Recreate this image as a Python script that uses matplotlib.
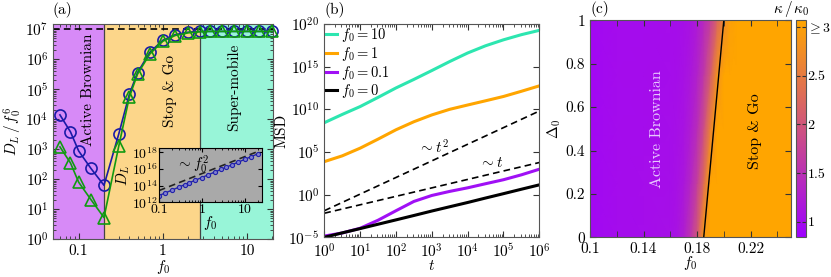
import matplotlib
matplotlib.use("Agg")
import matplotlib.pyplot as plt
from matplotlib.colors import LinearSegmentedColormap
from matplotlib.ticker import FixedLocator, FixedFormatter, LogLocator, NullFormatter, NullLocator

plt.rcParams["font.family"] = "serif"
plt.rcParams["font.serif"] = ["cmr10"]
plt.rcParams["mathtext.fontset"] = "cm"
plt.rcParams["axes.formatter.use_mathtext"] = True
plt.rcParams["font.size"] = 11

# ---- panel (a) data
f0_a = [0.06, 0.08, 0.1, 0.14, 0.2, 0.3, 0.4, 0.5, 0.7, 1, 1.4, 2, 2.8, 3.6, 5, 7, 10, 14, 20]
DL_blue = [1.4e4, 3.8e3, 880, 230, 63, 3.3e3, 6.8e4, 3.6e5, 1.7e6, 4.3e6, 6.6e6, 8e6,
           8.5e6, 8.5e6, 8.5e6, 8.5e6, 8.5e6, 8.5e6, 8.5e6]
DL_green = [1.2e3, 350, 80, 21, 5.3, 1.3e3, 5.5e4, 3.2e5, 1.5e6, 4e6, 6.2e6, 7.6e6,
            8.3e6, 8.5e6, 8.5e6, 8.5e6, 8.5e6, 8.5e6, 8.5e6]
plateau = 1e7
regions = [(0.05, 0.2, "#d78af7"), (0.2, 2.8, "#fcd68a"), (2.8, 20.5, "#98f5d8")]

# inset
f0_in = [0.1, 0.14, 0.2, 0.3, 0.4, 0.5, 0.7, 1, 1.4, 2, 2.8, 3.6, 5, 7, 10, 14, 20]
DL_in = [6.3e12, 1.3e13, 2.8e13, 6.9e13, 1.3e14, 2.1e14, 4.3e14, 9.3e14, 1.9e15, 4.2e15,
         8.7e15, 1.5e16, 3.1e16, 6.3e16, 1.4e17, 2.9e17, 6.3e17]
guide_in_x = [0.1, 20]
guide_in_y = [2.5e13, 1.2e18]

# ---- panel (b) data
t = [1, 3.16, 10, 31.6, 100, 316, 1e3, 3.16e3, 1e4, 3.16e4, 1e5, 3.16e5, 1e6]
msd_10 = [2.7e8, 2.5e9, 2.1e10, 2.5e11, 3.2e12, 3.2e13, 3.5e14, 4.0e15, 4.0e16, 2.8e17,
          1.4e18, 5.6e18, 1.8e19]
msd_1 = [7.4e3, 3.5e4, 2.8e5, 3.2e6, 4.0e7, 3.5e8, 2.2e9, 1.0e10, 3.2e10, 1.0e11, 3.2e11,
         1.3e12, 5.6e12]
msd_01 = [1.4e-5, 3.2e-5, 1.15e-4, 1.0e-3, 1.3e-2, 0.16, 0.8, 2.4, 6.3, 19, 56, 210, 950]
msd_0 = [1e-5, 3.3e-5, 1.05e-4, 3.4e-4, 1.1e-3, 3.6e-3, 1.2e-2, 3.8e-2, 0.12, 0.4, 1.3, 4.3, 14]
guide_t = [1, 1e6]
guide_t2 = [1.3e-2, 6.3e9]
guide_t1 = [6.6e-3, 5.8e3]

# ---- panel (c) data
f0_c = [0.10, 0.12, 0.14, 0.16, 0.165, 0.17, 0.175, 0.18, 0.185, 0.19, 0.195, 0.20, 0.205,
        0.21, 0.22, 0.25]
delta0 = [0.0, 0.25, 0.5, 0.75, 1.0]
kappa = [
    [0.95, 1.00, 1.02, 1.05, 1.10, 1.25, 1.55, 2.00, 2.90, 3.20, 3.30, 3.30, 3.30, 3.30, 3.30, 3.30],
    [0.95, 1.00, 1.02, 1.04, 1.07, 1.15, 1.35, 1.70, 2.30, 3.10, 3.30, 3.30, 3.30, 3.30, 3.30, 3.30],
    [0.95, 1.00, 1.01, 1.03, 1.05, 1.10, 1.22, 1.45, 1.90, 2.60, 3.20, 3.30, 3.30, 3.30, 3.30, 3.30],
    [0.95, 1.00, 1.01, 1.02, 1.04, 1.07, 1.15, 1.30, 1.60, 2.10, 2.80, 3.20, 3.30, 3.30, 3.30, 3.30],
    [0.95, 1.00, 1.00, 1.02, 1.03, 1.05, 1.10, 1.20, 1.40, 1.70, 2.20, 2.70, 3.00, 3.30, 3.30, 3.30],
]
border_f0 = [0.185, 0.2]
border_d = [0.0, 1.0]

W, H = 831, 277
fig = plt.figure(figsize=(W / 100, H / 100), dpi=100)

def px_axes(l, t_, r, b):
    return fig.add_axes([l / W, 1 - b / H, (r - l) / W, (b - t_) / H])

def style(ax):
    ax.tick_params(which="both", direction="in", top=True, right=True, color="#333333")
    ax.tick_params(which="major", length=4)
    ax.tick_params(which="minor", length=2)
    for s in ax.spines.values():
        s.set_color("#555555")

# ---------------- (a)
ax1 = px_axes(53.3, 24, 273.3, 239.3)
for lo, hi, c in regions:
    ax1.axvspan(lo, hi, color=c, lw=0)
for x in (0.2, 2.8):
    ax1.axvline(x, color="#444444", lw=0.9)
ax1.axhline(plateau, color="k", ls=(0, (4, 2.5)), lw=1.2)
ax1.plot(f0_a, DL_blue, "-o", color="#1a1aa8", mfc="none", ms=8, mew=1.2, lw=1.2, clip_on=False, zorder=4)
ax1.plot(f0_a, DL_green, "-^", color="#119a11", mfc="none", ms=8, mew=1.2, lw=1.2, clip_on=False, zorder=4)
ax1.set_xscale("log")
ax1.set_yscale("log")
ax1.set_xlim(0.05, 20.5)
ax1.set_ylim(1, 1.5e7)
ax1.xaxis.set_major_locator(FixedLocator([0.1, 1, 10]))
ax1.xaxis.set_major_formatter(FixedFormatter(["0.1", "1", "10"]))
ax1.xaxis.set_minor_locator(LogLocator(subs=range(2, 10), numticks=20))
ax1.xaxis.set_minor_formatter(NullFormatter())
ax1.yaxis.set_major_locator(FixedLocator([10.0 ** k for k in range(8)]))
ax1.yaxis.set_minor_locator(LogLocator(subs=range(2, 10), numticks=20))
ax1.yaxis.set_minor_formatter(NullFormatter())
style(ax1)
ax1.set_xlabel("$f_0$", labelpad=0)
ax1.set_ylabel("$D_L\\,/\\,f_0^6$", labelpad=1)
ax1.text(0.13, 1.0e5, "Active Brownian", rotation=90, ha="center", va="center", fontsize=11)
ax1.text(1.22, 9e4, "Stop & Go", rotation=90, ha="center", va="center", fontsize=11)
ax1.text(7.0, 1.2e5, "Super-mobile", rotation=90, ha="center", va="center", fontsize=11)
fig.text(53 / W, 1 - 10 / H, "(a)", ha="left", va="center", fontsize=11)

ins = ax1.inset_axes([0.48, 0.172, 0.468, 0.251])
ins.set_facecolor("#a9a9a9")
ins.plot(guide_in_x, guide_in_y, color="#222222", ls=(0, (4, 2.5)), lw=1.2)
ins.plot(f0_in, DL_in, "-o", color="#2222aa", ms=3, mfc="#7f7fd0", mew=0.8, lw=1.0)
ins.set_xscale("log")
ins.set_yscale("log")
ins.set_xlim(0.1, 25)
ins.set_ylim(1e12, 3e18)
ins.xaxis.set_major_locator(FixedLocator([0.1, 1, 10]))
ins.xaxis.set_major_formatter(FixedFormatter(["0.1", "1", "10"]))
ins.xaxis.set_minor_locator(LogLocator(subs=range(2, 10), numticks=20))
ins.xaxis.set_minor_formatter(NullFormatter())
ins.yaxis.set_major_locator(FixedLocator([1e12, 1e14, 1e16, 1e18]))
ins.yaxis.set_minor_locator(NullLocator())
ins.tick_params(which="both", direction="in", top=True, right=True, pad=1, labelsize=10)
ins.tick_params(which="major", length=3)
ins.tick_params(which="minor", length=1.5)
ins.set_xlabel("$f_0$", labelpad=-1, fontsize=11)
ins.set_ylabel("$D_L$", labelpad=0, fontsize=11)
ins.text(0.6, 3e16, "$\\sim f_0^2$", ha="center", va="center", fontsize=11)

# ---------------- (b)
ax2 = px_axes(324.3, 24, 539.3, 237.3)
ax2.plot(guide_t, guide_t2, color="k", ls=(0, (4, 2.5)), lw=1.2)
ax2.plot(guide_t, guide_t1, color="k", ls=(0, (4, 2.5)), lw=1.2)
ax2.plot(t, msd_10, color="#2de6b0", lw=2.2, label="$f_0=10$")
ax2.plot(t, msd_1, color="#ffa500", lw=2.2, label="$f_0=1$")
ax2.plot(t, msd_01, color="#a010f5", lw=2.2, label="$f_0=0.1$")
ax2.plot(t, msd_0, color="k", lw=2.2, label="$f_0=0$")
ax2.set_xscale("log")
ax2.set_yscale("log")
ax2.set_xlim(1, 1e6)
ax2.set_ylim(1e-5, 1e20)
ax2.xaxis.set_major_locator(FixedLocator([10.0 ** k for k in range(7)]))
ax2.xaxis.set_minor_locator(LogLocator(subs=range(2, 10), numticks=20))
ax2.xaxis.set_minor_formatter(NullFormatter())
ax2.yaxis.set_major_locator(FixedLocator([10.0 ** k for k in range(-5, 21, 5)]))
ax2.yaxis.set_minor_locator(NullLocator())
style(ax2)
ax2.set_xlabel("$t$", labelpad=-1)
ax2.set_ylabel("MSD", labelpad=0)
ax2.text(1.1e3, 3e5, "$\\sim t^2$", ha="center", va="center", fontsize=11)
ax2.text(4.5e4, 5e3, "$\\sim t$", ha="center", va="center", fontsize=11)
leg = ax2.legend(loc="upper left", frameon=False, handlelength=0.7, handletextpad=0.3,
                 borderaxespad=0.0, borderpad=0.15, labelspacing=0.05, fontsize=10.5)
fig.text(324 / W, 1 - 10 / H, "(b)", ha="left", va="center", fontsize=11)

# ---------------- (c)
ax3 = px_axes(590, 20.3, 790.7, 237.3)
cmap = LinearSegmentedColormap.from_list("kap", ["#9d00ff", "#ffa500"])
mesh = ax3.pcolormesh(f0_c, delta0, kappa, cmap=cmap, vmin=0.84, vmax=3.07, shading="gouraud")
ax3.plot(border_f0, border_d, color="k", lw=1.0)
ax3.set_xlim(0.1, 0.25)
ax3.set_ylim(0, 1)
ax3.xaxis.set_major_locator(FixedLocator([0.1, 0.14, 0.18, 0.22]))
ax3.xaxis.set_major_formatter(FixedFormatter(["0.1", "0.14", "0.18", "0.22"]))
ax3.xaxis.set_minor_locator(FixedLocator([0.12, 0.16, 0.2, 0.24]))
ax3.yaxis.set_major_locator(FixedLocator([0, 0.2, 0.4, 0.6, 0.8, 1]))
ax3.yaxis.set_major_formatter(FixedFormatter(["0", "0.2", "0.4", "0.6", "0.8", "1"]))
style(ax3)
ax3.tick_params(which="minor", length=4)
ax3.set_xlabel("$f_0$", labelpad=-1)
ax3.set_ylabel("$\\Delta_0$", labelpad=2)
ax3.text(0.150, 0.5, "Active Brownian", rotation=90, ha="center", va="center",
         color="#e8c8ff", fontsize=11.5)
ax3.text(0.223, 0.49, "Stop & Go", rotation=90, ha="center", va="center", color="k", fontsize=11.5)
fig.text(590 / W, 1 - 9 / H, "(c)", ha="left", va="center", fontsize=11)

cax = px_axes(795.5, 20.3, 806, 237.3)
cb = fig.colorbar(mesh, cax=cax)
cb.set_ticks([1, 1.5, 2, 2.5, 3])
cb.set_ticklabels(["1", "1.5", "2", "2.5", "${\\geq}3$"])
cb.ax.tick_params(direction="in", left=True, right=True, length=3, pad=1, color="#333333",
                  labelsize=10)
cb.outline.set_edgecolor("#555555")
fig.text(791 / W, 1 - 9 / H, "$\\kappa\\,/\\,\\kappa_0$", ha="center", va="center", fontsize=11)

fig.savefig("out.png", dpi=100)
